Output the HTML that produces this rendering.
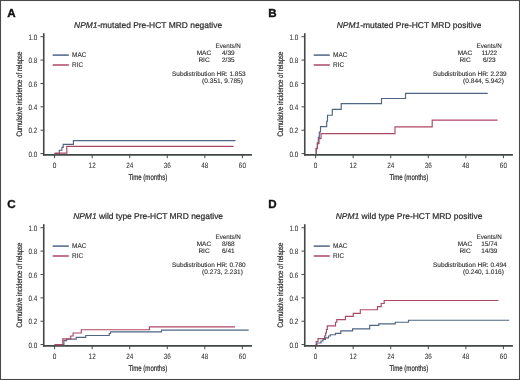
<!DOCTYPE html>
<html><head><meta charset="utf-8"><style>
html,body{margin:0;padding:0;background:#fff;width:520px;height:380px;overflow:hidden}
svg{display:block;will-change:transform;text-rendering:geometricPrecision;font-family:"Liberation Sans", sans-serif}
</style></head><body>
<svg width="520" height="380" viewBox="0 0 520 380" font-family='"Liberation Sans", sans-serif'>
<rect x="0" y="0" width="520" height="380" fill="#fff"/>
<g transform="translate(0,0)">
<text x="7.2" y="17" font-size="11.6" font-weight="bold" fill="#111" stroke="#111" stroke-width="0.35">A</text>
<text x="148.1" y="27.6" font-size="8.45" text-anchor="middle" fill="#2e2e2e" stroke="#2e2e2e" stroke-width="0.22"><tspan font-style="italic">NPM1</tspan>-mutated Pre-HCT MRD negative</text>
<line x1="43.75" y1="33.2" x2="43.75" y2="155.6" stroke="#424846" stroke-width="1.6"/>
<line x1="43" y1="154.85" x2="251.9" y2="154.85" stroke="#424846" stroke-width="1.8"/>
<line x1="40.5" y1="153.60" x2="43.75" y2="153.60" stroke="#424846" stroke-width="1"/>
<text x="37.3" y="156.70" font-size="7.8" text-anchor="end" textLength="8.8" lengthAdjust="spacingAndGlyphs" fill="#2e2e2e" stroke="#2e2e2e" stroke-width="0.04">0.0</text>
<line x1="40.5" y1="130.22" x2="43.75" y2="130.22" stroke="#424846" stroke-width="1"/>
<text x="37.3" y="133.32" font-size="7.8" text-anchor="end" textLength="8.8" lengthAdjust="spacingAndGlyphs" fill="#2e2e2e" stroke="#2e2e2e" stroke-width="0.04">0.2</text>
<line x1="40.5" y1="106.84" x2="43.75" y2="106.84" stroke="#424846" stroke-width="1"/>
<text x="37.3" y="109.94" font-size="7.8" text-anchor="end" textLength="8.8" lengthAdjust="spacingAndGlyphs" fill="#2e2e2e" stroke="#2e2e2e" stroke-width="0.04">0.4</text>
<line x1="40.5" y1="83.46" x2="43.75" y2="83.46" stroke="#424846" stroke-width="1"/>
<text x="37.3" y="86.56" font-size="7.8" text-anchor="end" textLength="8.8" lengthAdjust="spacingAndGlyphs" fill="#2e2e2e" stroke="#2e2e2e" stroke-width="0.04">0.6</text>
<line x1="40.5" y1="60.08" x2="43.75" y2="60.08" stroke="#424846" stroke-width="1"/>
<text x="37.3" y="63.18" font-size="7.8" text-anchor="end" textLength="8.8" lengthAdjust="spacingAndGlyphs" fill="#2e2e2e" stroke="#2e2e2e" stroke-width="0.04">0.8</text>
<line x1="40.5" y1="36.70" x2="43.75" y2="36.70" stroke="#424846" stroke-width="1"/>
<text x="37.3" y="39.80" font-size="7.8" text-anchor="end" textLength="8.8" lengthAdjust="spacingAndGlyphs" fill="#2e2e2e" stroke="#2e2e2e" stroke-width="0.04">1.0</text>
<line x1="54.60" y1="154.8" x2="54.60" y2="158.2" stroke="#424846" stroke-width="1"/>
<text x="52.80" y="167.9" font-size="7.8" textLength="3.6" lengthAdjust="spacingAndGlyphs" fill="#2e2e2e" stroke="#2e2e2e" stroke-width="0.04">0</text>
<line x1="92.16" y1="154.8" x2="92.16" y2="158.2" stroke="#424846" stroke-width="1"/>
<text x="88.61" y="167.9" font-size="7.8" textLength="7.1" lengthAdjust="spacingAndGlyphs" fill="#2e2e2e" stroke="#2e2e2e" stroke-width="0.04">12</text>
<line x1="129.72" y1="154.8" x2="129.72" y2="158.2" stroke="#424846" stroke-width="1"/>
<text x="126.17" y="167.9" font-size="7.8" textLength="7.1" lengthAdjust="spacingAndGlyphs" fill="#2e2e2e" stroke="#2e2e2e" stroke-width="0.04">24</text>
<line x1="167.28" y1="154.8" x2="167.28" y2="158.2" stroke="#424846" stroke-width="1"/>
<text x="163.73" y="167.9" font-size="7.8" textLength="7.1" lengthAdjust="spacingAndGlyphs" fill="#2e2e2e" stroke="#2e2e2e" stroke-width="0.04">36</text>
<line x1="204.84" y1="154.8" x2="204.84" y2="158.2" stroke="#424846" stroke-width="1"/>
<text x="201.29" y="167.9" font-size="7.8" textLength="7.1" lengthAdjust="spacingAndGlyphs" fill="#2e2e2e" stroke="#2e2e2e" stroke-width="0.04">48</text>
<line x1="242.40" y1="154.8" x2="242.40" y2="158.2" stroke="#424846" stroke-width="1"/>
<text x="238.85" y="167.9" font-size="7.8" textLength="7.1" lengthAdjust="spacingAndGlyphs" fill="#2e2e2e" stroke="#2e2e2e" stroke-width="0.04">60</text>
<text x="128.4" y="179.8" font-size="8.3" textLength="38.9" lengthAdjust="spacingAndGlyphs" fill="#2e2e2e" stroke="#2e2e2e" stroke-width="0.22">Time (months)</text>
<text transform="translate(22.3,136.6) rotate(-90)" x="0" y="0" font-size="8" textLength="85" lengthAdjust="spacingAndGlyphs" fill="#2e2e2e" stroke="#2e2e2e" stroke-width="0.2">Cumulative incidence of relapse</text>
<line x1="52.7" y1="55.1" x2="68.8" y2="55.1" stroke="#4e6585" stroke-width="1.5"/>
<line x1="52.7" y1="65" x2="68.8" y2="65" stroke="#ad4764" stroke-width="1.5"/>
<text x="72.1" y="57" font-size="6.9" textLength="14.3" lengthAdjust="spacingAndGlyphs" fill="#2e2e2e" stroke="#2e2e2e" stroke-width="0.12">MAC</text>
<text x="72.1" y="67" font-size="6.9" textLength="11" lengthAdjust="spacingAndGlyphs" fill="#2e2e2e" stroke="#2e2e2e" stroke-width="0.12">RIC</text>
<g font-size="6.5" fill="#2e2e2e" stroke="#2e2e2e" stroke-width="0.12" text-anchor="middle">
<text x="228.1" y="47.6" textLength="25.2" lengthAdjust="spacingAndGlyphs">Events/N</text>
<text x="203.9" y="54.9">MAC</text><text x="228.3" y="54.9">4/39</text>
<text x="204" y="62.2">RIC</text><text x="228.3" y="62.2">2/35</text>
</g>
<text x="172" y="75.8" font-size="6.5" textLength="73.6" lengthAdjust="spacingAndGlyphs" fill="#2e2e2e" stroke="#2e2e2e" stroke-width="0.12">Subdistribution HR: 1.853</text>
<text x="202.1" y="83.1" font-size="6.6" textLength="40.8" lengthAdjust="spacingAndGlyphs" fill="#2e2e2e" stroke="#2e2e2e" stroke-width="0.12">(0.351, 9.785)</text>
</g>
<g transform="translate(261,0)">
<text x="7.2" y="17" font-size="11.6" font-weight="bold" fill="#111" stroke="#111" stroke-width="0.35">B</text>
<text x="148.1" y="27.6" font-size="8.45" text-anchor="middle" fill="#2e2e2e" stroke="#2e2e2e" stroke-width="0.22"><tspan font-style="italic">NPM1</tspan>-mutated Pre-HCT MRD positive</text>
<line x1="43.75" y1="33.2" x2="43.75" y2="155.6" stroke="#424846" stroke-width="1.6"/>
<line x1="43" y1="154.85" x2="251.9" y2="154.85" stroke="#424846" stroke-width="1.8"/>
<line x1="40.5" y1="153.60" x2="43.75" y2="153.60" stroke="#424846" stroke-width="1"/>
<text x="37.3" y="156.70" font-size="7.8" text-anchor="end" textLength="8.8" lengthAdjust="spacingAndGlyphs" fill="#2e2e2e" stroke="#2e2e2e" stroke-width="0.04">0.0</text>
<line x1="40.5" y1="130.22" x2="43.75" y2="130.22" stroke="#424846" stroke-width="1"/>
<text x="37.3" y="133.32" font-size="7.8" text-anchor="end" textLength="8.8" lengthAdjust="spacingAndGlyphs" fill="#2e2e2e" stroke="#2e2e2e" stroke-width="0.04">0.2</text>
<line x1="40.5" y1="106.84" x2="43.75" y2="106.84" stroke="#424846" stroke-width="1"/>
<text x="37.3" y="109.94" font-size="7.8" text-anchor="end" textLength="8.8" lengthAdjust="spacingAndGlyphs" fill="#2e2e2e" stroke="#2e2e2e" stroke-width="0.04">0.4</text>
<line x1="40.5" y1="83.46" x2="43.75" y2="83.46" stroke="#424846" stroke-width="1"/>
<text x="37.3" y="86.56" font-size="7.8" text-anchor="end" textLength="8.8" lengthAdjust="spacingAndGlyphs" fill="#2e2e2e" stroke="#2e2e2e" stroke-width="0.04">0.6</text>
<line x1="40.5" y1="60.08" x2="43.75" y2="60.08" stroke="#424846" stroke-width="1"/>
<text x="37.3" y="63.18" font-size="7.8" text-anchor="end" textLength="8.8" lengthAdjust="spacingAndGlyphs" fill="#2e2e2e" stroke="#2e2e2e" stroke-width="0.04">0.8</text>
<line x1="40.5" y1="36.70" x2="43.75" y2="36.70" stroke="#424846" stroke-width="1"/>
<text x="37.3" y="39.80" font-size="7.8" text-anchor="end" textLength="8.8" lengthAdjust="spacingAndGlyphs" fill="#2e2e2e" stroke="#2e2e2e" stroke-width="0.04">1.0</text>
<line x1="54.60" y1="154.8" x2="54.60" y2="158.2" stroke="#424846" stroke-width="1"/>
<text x="52.80" y="167.9" font-size="7.8" textLength="3.6" lengthAdjust="spacingAndGlyphs" fill="#2e2e2e" stroke="#2e2e2e" stroke-width="0.04">0</text>
<line x1="92.16" y1="154.8" x2="92.16" y2="158.2" stroke="#424846" stroke-width="1"/>
<text x="88.61" y="167.9" font-size="7.8" textLength="7.1" lengthAdjust="spacingAndGlyphs" fill="#2e2e2e" stroke="#2e2e2e" stroke-width="0.04">12</text>
<line x1="129.72" y1="154.8" x2="129.72" y2="158.2" stroke="#424846" stroke-width="1"/>
<text x="126.17" y="167.9" font-size="7.8" textLength="7.1" lengthAdjust="spacingAndGlyphs" fill="#2e2e2e" stroke="#2e2e2e" stroke-width="0.04">24</text>
<line x1="167.28" y1="154.8" x2="167.28" y2="158.2" stroke="#424846" stroke-width="1"/>
<text x="163.73" y="167.9" font-size="7.8" textLength="7.1" lengthAdjust="spacingAndGlyphs" fill="#2e2e2e" stroke="#2e2e2e" stroke-width="0.04">36</text>
<line x1="204.84" y1="154.8" x2="204.84" y2="158.2" stroke="#424846" stroke-width="1"/>
<text x="201.29" y="167.9" font-size="7.8" textLength="7.1" lengthAdjust="spacingAndGlyphs" fill="#2e2e2e" stroke="#2e2e2e" stroke-width="0.04">48</text>
<line x1="242.40" y1="154.8" x2="242.40" y2="158.2" stroke="#424846" stroke-width="1"/>
<text x="238.85" y="167.9" font-size="7.8" textLength="7.1" lengthAdjust="spacingAndGlyphs" fill="#2e2e2e" stroke="#2e2e2e" stroke-width="0.04">60</text>
<text x="128.4" y="179.8" font-size="8.3" textLength="38.9" lengthAdjust="spacingAndGlyphs" fill="#2e2e2e" stroke="#2e2e2e" stroke-width="0.22">Time (months)</text>
<text transform="translate(22.3,136.6) rotate(-90)" x="0" y="0" font-size="8" textLength="85" lengthAdjust="spacingAndGlyphs" fill="#2e2e2e" stroke="#2e2e2e" stroke-width="0.2">Cumulative incidence of relapse</text>
<line x1="52.7" y1="55.1" x2="68.8" y2="55.1" stroke="#4e6585" stroke-width="1.5"/>
<line x1="52.7" y1="65" x2="68.8" y2="65" stroke="#ad4764" stroke-width="1.5"/>
<text x="72.1" y="57" font-size="6.9" textLength="14.3" lengthAdjust="spacingAndGlyphs" fill="#2e2e2e" stroke="#2e2e2e" stroke-width="0.12">MAC</text>
<text x="72.1" y="67" font-size="6.9" textLength="11" lengthAdjust="spacingAndGlyphs" fill="#2e2e2e" stroke="#2e2e2e" stroke-width="0.12">RIC</text>
<g font-size="6.5" fill="#2e2e2e" stroke="#2e2e2e" stroke-width="0.12" text-anchor="middle">
<text x="228.1" y="47.6" textLength="25.2" lengthAdjust="spacingAndGlyphs">Events/N</text>
<text x="203.9" y="54.9">MAC</text><text x="228.3" y="54.9">11/22</text>
<text x="204" y="62.2">RIC</text><text x="228.3" y="62.2">6/23</text>
</g>
<text x="172" y="75.8" font-size="6.5" textLength="73.6" lengthAdjust="spacingAndGlyphs" fill="#2e2e2e" stroke="#2e2e2e" stroke-width="0.12">Subdistribution HR: 2.239</text>
<text x="202.1" y="83.1" font-size="6.6" textLength="40.8" lengthAdjust="spacingAndGlyphs" fill="#2e2e2e" stroke="#2e2e2e" stroke-width="0.12">(0.844, 5.942)</text>
</g>
<g transform="translate(0,191)">
<text x="7.2" y="17" font-size="11.6" font-weight="bold" fill="#111" stroke="#111" stroke-width="0.35">C</text>
<text x="148.1" y="27.6" font-size="8.45" text-anchor="middle" fill="#2e2e2e" stroke="#2e2e2e" stroke-width="0.22"><tspan font-style="italic">NPM1</tspan> wild type Pre-HCT MRD negative</text>
<line x1="43.75" y1="33.2" x2="43.75" y2="155.6" stroke="#424846" stroke-width="1.6"/>
<line x1="43" y1="154.85" x2="251.9" y2="154.85" stroke="#424846" stroke-width="1.8"/>
<line x1="40.5" y1="153.60" x2="43.75" y2="153.60" stroke="#424846" stroke-width="1"/>
<text x="37.3" y="156.70" font-size="7.8" text-anchor="end" textLength="8.8" lengthAdjust="spacingAndGlyphs" fill="#2e2e2e" stroke="#2e2e2e" stroke-width="0.04">0.0</text>
<line x1="40.5" y1="130.22" x2="43.75" y2="130.22" stroke="#424846" stroke-width="1"/>
<text x="37.3" y="133.32" font-size="7.8" text-anchor="end" textLength="8.8" lengthAdjust="spacingAndGlyphs" fill="#2e2e2e" stroke="#2e2e2e" stroke-width="0.04">0.2</text>
<line x1="40.5" y1="106.84" x2="43.75" y2="106.84" stroke="#424846" stroke-width="1"/>
<text x="37.3" y="109.94" font-size="7.8" text-anchor="end" textLength="8.8" lengthAdjust="spacingAndGlyphs" fill="#2e2e2e" stroke="#2e2e2e" stroke-width="0.04">0.4</text>
<line x1="40.5" y1="83.46" x2="43.75" y2="83.46" stroke="#424846" stroke-width="1"/>
<text x="37.3" y="86.56" font-size="7.8" text-anchor="end" textLength="8.8" lengthAdjust="spacingAndGlyphs" fill="#2e2e2e" stroke="#2e2e2e" stroke-width="0.04">0.6</text>
<line x1="40.5" y1="60.08" x2="43.75" y2="60.08" stroke="#424846" stroke-width="1"/>
<text x="37.3" y="63.18" font-size="7.8" text-anchor="end" textLength="8.8" lengthAdjust="spacingAndGlyphs" fill="#2e2e2e" stroke="#2e2e2e" stroke-width="0.04">0.8</text>
<line x1="40.5" y1="36.70" x2="43.75" y2="36.70" stroke="#424846" stroke-width="1"/>
<text x="37.3" y="39.80" font-size="7.8" text-anchor="end" textLength="8.8" lengthAdjust="spacingAndGlyphs" fill="#2e2e2e" stroke="#2e2e2e" stroke-width="0.04">1.0</text>
<line x1="54.60" y1="154.8" x2="54.60" y2="158.2" stroke="#424846" stroke-width="1"/>
<text x="52.80" y="167.9" font-size="7.8" textLength="3.6" lengthAdjust="spacingAndGlyphs" fill="#2e2e2e" stroke="#2e2e2e" stroke-width="0.04">0</text>
<line x1="92.16" y1="154.8" x2="92.16" y2="158.2" stroke="#424846" stroke-width="1"/>
<text x="88.61" y="167.9" font-size="7.8" textLength="7.1" lengthAdjust="spacingAndGlyphs" fill="#2e2e2e" stroke="#2e2e2e" stroke-width="0.04">12</text>
<line x1="129.72" y1="154.8" x2="129.72" y2="158.2" stroke="#424846" stroke-width="1"/>
<text x="126.17" y="167.9" font-size="7.8" textLength="7.1" lengthAdjust="spacingAndGlyphs" fill="#2e2e2e" stroke="#2e2e2e" stroke-width="0.04">24</text>
<line x1="167.28" y1="154.8" x2="167.28" y2="158.2" stroke="#424846" stroke-width="1"/>
<text x="163.73" y="167.9" font-size="7.8" textLength="7.1" lengthAdjust="spacingAndGlyphs" fill="#2e2e2e" stroke="#2e2e2e" stroke-width="0.04">36</text>
<line x1="204.84" y1="154.8" x2="204.84" y2="158.2" stroke="#424846" stroke-width="1"/>
<text x="201.29" y="167.9" font-size="7.8" textLength="7.1" lengthAdjust="spacingAndGlyphs" fill="#2e2e2e" stroke="#2e2e2e" stroke-width="0.04">48</text>
<line x1="242.40" y1="154.8" x2="242.40" y2="158.2" stroke="#424846" stroke-width="1"/>
<text x="238.85" y="167.9" font-size="7.8" textLength="7.1" lengthAdjust="spacingAndGlyphs" fill="#2e2e2e" stroke="#2e2e2e" stroke-width="0.04">60</text>
<text x="128.4" y="179.8" font-size="8.3" textLength="38.9" lengthAdjust="spacingAndGlyphs" fill="#2e2e2e" stroke="#2e2e2e" stroke-width="0.22">Time (months)</text>
<text transform="translate(22.3,136.6) rotate(-90)" x="0" y="0" font-size="8" textLength="85" lengthAdjust="spacingAndGlyphs" fill="#2e2e2e" stroke="#2e2e2e" stroke-width="0.2">Cumulative incidence of relapse</text>
<line x1="52.7" y1="55.1" x2="68.8" y2="55.1" stroke="#4e6585" stroke-width="1.5"/>
<line x1="52.7" y1="65" x2="68.8" y2="65" stroke="#ad4764" stroke-width="1.5"/>
<text x="72.1" y="57" font-size="6.9" textLength="14.3" lengthAdjust="spacingAndGlyphs" fill="#2e2e2e" stroke="#2e2e2e" stroke-width="0.12">MAC</text>
<text x="72.1" y="67" font-size="6.9" textLength="11" lengthAdjust="spacingAndGlyphs" fill="#2e2e2e" stroke="#2e2e2e" stroke-width="0.12">RIC</text>
<g font-size="6.5" fill="#2e2e2e" stroke="#2e2e2e" stroke-width="0.12" text-anchor="middle">
<text x="228.1" y="47.6" textLength="25.2" lengthAdjust="spacingAndGlyphs">Events/N</text>
<text x="203.9" y="54.9">MAC</text><text x="228.3" y="54.9">8/68</text>
<text x="204" y="62.2">RIC</text><text x="228.3" y="62.2">6/41</text>
</g>
<text x="172" y="75.8" font-size="6.5" textLength="73.6" lengthAdjust="spacingAndGlyphs" fill="#2e2e2e" stroke="#2e2e2e" stroke-width="0.12">Subdistribution HR: 0.780</text>
<text x="202.1" y="83.1" font-size="6.6" textLength="40.8" lengthAdjust="spacingAndGlyphs" fill="#2e2e2e" stroke="#2e2e2e" stroke-width="0.12">(0.273, 2.231)</text>
</g>
<g transform="translate(261,191)">
<text x="7.2" y="17" font-size="11.6" font-weight="bold" fill="#111" stroke="#111" stroke-width="0.35">D</text>
<text x="148.1" y="27.6" font-size="8.45" text-anchor="middle" fill="#2e2e2e" stroke="#2e2e2e" stroke-width="0.22"><tspan font-style="italic">NPM1</tspan> wild type Pre-HCT MRD positive</text>
<line x1="43.75" y1="33.2" x2="43.75" y2="155.6" stroke="#424846" stroke-width="1.6"/>
<line x1="43" y1="154.85" x2="251.9" y2="154.85" stroke="#424846" stroke-width="1.8"/>
<line x1="40.5" y1="153.60" x2="43.75" y2="153.60" stroke="#424846" stroke-width="1"/>
<text x="37.3" y="156.70" font-size="7.8" text-anchor="end" textLength="8.8" lengthAdjust="spacingAndGlyphs" fill="#2e2e2e" stroke="#2e2e2e" stroke-width="0.04">0.0</text>
<line x1="40.5" y1="130.22" x2="43.75" y2="130.22" stroke="#424846" stroke-width="1"/>
<text x="37.3" y="133.32" font-size="7.8" text-anchor="end" textLength="8.8" lengthAdjust="spacingAndGlyphs" fill="#2e2e2e" stroke="#2e2e2e" stroke-width="0.04">0.2</text>
<line x1="40.5" y1="106.84" x2="43.75" y2="106.84" stroke="#424846" stroke-width="1"/>
<text x="37.3" y="109.94" font-size="7.8" text-anchor="end" textLength="8.8" lengthAdjust="spacingAndGlyphs" fill="#2e2e2e" stroke="#2e2e2e" stroke-width="0.04">0.4</text>
<line x1="40.5" y1="83.46" x2="43.75" y2="83.46" stroke="#424846" stroke-width="1"/>
<text x="37.3" y="86.56" font-size="7.8" text-anchor="end" textLength="8.8" lengthAdjust="spacingAndGlyphs" fill="#2e2e2e" stroke="#2e2e2e" stroke-width="0.04">0.6</text>
<line x1="40.5" y1="60.08" x2="43.75" y2="60.08" stroke="#424846" stroke-width="1"/>
<text x="37.3" y="63.18" font-size="7.8" text-anchor="end" textLength="8.8" lengthAdjust="spacingAndGlyphs" fill="#2e2e2e" stroke="#2e2e2e" stroke-width="0.04">0.8</text>
<line x1="40.5" y1="36.70" x2="43.75" y2="36.70" stroke="#424846" stroke-width="1"/>
<text x="37.3" y="39.80" font-size="7.8" text-anchor="end" textLength="8.8" lengthAdjust="spacingAndGlyphs" fill="#2e2e2e" stroke="#2e2e2e" stroke-width="0.04">1.0</text>
<line x1="54.60" y1="154.8" x2="54.60" y2="158.2" stroke="#424846" stroke-width="1"/>
<text x="52.80" y="167.9" font-size="7.8" textLength="3.6" lengthAdjust="spacingAndGlyphs" fill="#2e2e2e" stroke="#2e2e2e" stroke-width="0.04">0</text>
<line x1="92.16" y1="154.8" x2="92.16" y2="158.2" stroke="#424846" stroke-width="1"/>
<text x="88.61" y="167.9" font-size="7.8" textLength="7.1" lengthAdjust="spacingAndGlyphs" fill="#2e2e2e" stroke="#2e2e2e" stroke-width="0.04">12</text>
<line x1="129.72" y1="154.8" x2="129.72" y2="158.2" stroke="#424846" stroke-width="1"/>
<text x="126.17" y="167.9" font-size="7.8" textLength="7.1" lengthAdjust="spacingAndGlyphs" fill="#2e2e2e" stroke="#2e2e2e" stroke-width="0.04">24</text>
<line x1="167.28" y1="154.8" x2="167.28" y2="158.2" stroke="#424846" stroke-width="1"/>
<text x="163.73" y="167.9" font-size="7.8" textLength="7.1" lengthAdjust="spacingAndGlyphs" fill="#2e2e2e" stroke="#2e2e2e" stroke-width="0.04">36</text>
<line x1="204.84" y1="154.8" x2="204.84" y2="158.2" stroke="#424846" stroke-width="1"/>
<text x="201.29" y="167.9" font-size="7.8" textLength="7.1" lengthAdjust="spacingAndGlyphs" fill="#2e2e2e" stroke="#2e2e2e" stroke-width="0.04">48</text>
<line x1="242.40" y1="154.8" x2="242.40" y2="158.2" stroke="#424846" stroke-width="1"/>
<text x="238.85" y="167.9" font-size="7.8" textLength="7.1" lengthAdjust="spacingAndGlyphs" fill="#2e2e2e" stroke="#2e2e2e" stroke-width="0.04">60</text>
<text x="128.4" y="179.8" font-size="8.3" textLength="38.9" lengthAdjust="spacingAndGlyphs" fill="#2e2e2e" stroke="#2e2e2e" stroke-width="0.22">Time (months)</text>
<text transform="translate(22.3,136.6) rotate(-90)" x="0" y="0" font-size="8" textLength="85" lengthAdjust="spacingAndGlyphs" fill="#2e2e2e" stroke="#2e2e2e" stroke-width="0.2">Cumulative incidence of relapse</text>
<line x1="52.7" y1="55.1" x2="68.8" y2="55.1" stroke="#4e6585" stroke-width="1.5"/>
<line x1="52.7" y1="65" x2="68.8" y2="65" stroke="#ad4764" stroke-width="1.5"/>
<text x="72.1" y="57" font-size="6.9" textLength="14.3" lengthAdjust="spacingAndGlyphs" fill="#2e2e2e" stroke="#2e2e2e" stroke-width="0.12">MAC</text>
<text x="72.1" y="67" font-size="6.9" textLength="11" lengthAdjust="spacingAndGlyphs" fill="#2e2e2e" stroke="#2e2e2e" stroke-width="0.12">RIC</text>
<g font-size="6.5" fill="#2e2e2e" stroke="#2e2e2e" stroke-width="0.12" text-anchor="middle">
<text x="228.1" y="47.6" textLength="25.2" lengthAdjust="spacingAndGlyphs">Events/N</text>
<text x="203.9" y="54.9">MAC</text><text x="228.3" y="54.9">15/74</text>
<text x="204" y="62.2">RIC</text><text x="228.3" y="62.2">14/39</text>
</g>
<text x="172" y="75.8" font-size="6.5" textLength="73.6" lengthAdjust="spacingAndGlyphs" fill="#2e2e2e" stroke="#2e2e2e" stroke-width="0.12">Subdistribution HR: 0.494</text>
<text x="202.1" y="83.1" font-size="6.6" textLength="40.8" lengthAdjust="spacingAndGlyphs" fill="#2e2e2e" stroke="#2e2e2e" stroke-width="0.12">(0.240, 1.016)</text>
</g>
<path d="M54.6 153.6 H59.3 V150.2 H61.9 V147.3 H63.2 V144.4 H73.4 V140.6 H235.5" fill="none" stroke="#4e6585" stroke-width="1.15"/>
<path d="M54.6 153.6 H55.2 V153.1 H66.8 V146.4 H233.6" fill="none" stroke="#ad4764" stroke-width="1.15"/>
<path d="M315.8 153.6 H316.3 V148.2 H317.3 V142.8 H318.3 V137.4 H319.3 V132 H320.5 V126.6 H326.7 V121.2 H327.5 V115.2 H332.3 V109.4 H341.2 V103.6 H381.5 V98.5 H405.5 V93.3 H487.7" fill="none" stroke="#4e6585" stroke-width="1.15"/>
<path d="M315.8 153.6 H316.1 V148.6 H317.5 V143.6 H319 V138.6 H321 V133.6 H395 V126.9 H432.2 V120.1 H497.5" fill="none" stroke="#ad4764" stroke-width="1.15"/>
<path d="M54.6 344.6 H63.9 V340.6 H66.5 V339.1 H76.2 V337.4 H85.8 V335.5 H109.2 V333.5 H110.5 V331.8 H161.5 V330.1 H248.7" fill="none" stroke="#4e6585" stroke-width="1.15"/>
<path d="M54.6 344.6 H62.8 V338.8 H70.7 V336 H73.1 V333 H81.3 V329.7 H149.4 V326.8 H234.9" fill="none" stroke="#ad4764" stroke-width="1.15"/>
<path d="M315.6 344.6 H317 V343 H321 V341 H323 V339.3 H325.5 V337.8 H328.5 V336 H330.3 V334.7 H335.5 V333.3 H340.8 V330.8 H352.6 V328.8 H369.7 V325.4 H378.8 V323.9 H395.3 V322.2 H408.5 V320.2 H509.2" fill="none" stroke="#4e6585" stroke-width="1.15"/>
<path d="M315.6 344.6 H316.2 V341.5 H318 V338.6 H324.5 V336 H325.6 V333 H326.4 V329.5 H327.3 V325.8 H335.5 V322.2 H336.8 V319.6 H345.4 V316.3 H353.3 V313.4 H360.3 V309.7 H377.5 V306.6 H381.2 V303.5 H384.2 V300.5 H498.4" fill="none" stroke="#ad4764" stroke-width="1.15"/>
<rect x="0.5" y="0.5" width="519" height="379" fill="none" stroke="#4a4a4a" stroke-width="1.1"/>
</svg>
</body></html>
